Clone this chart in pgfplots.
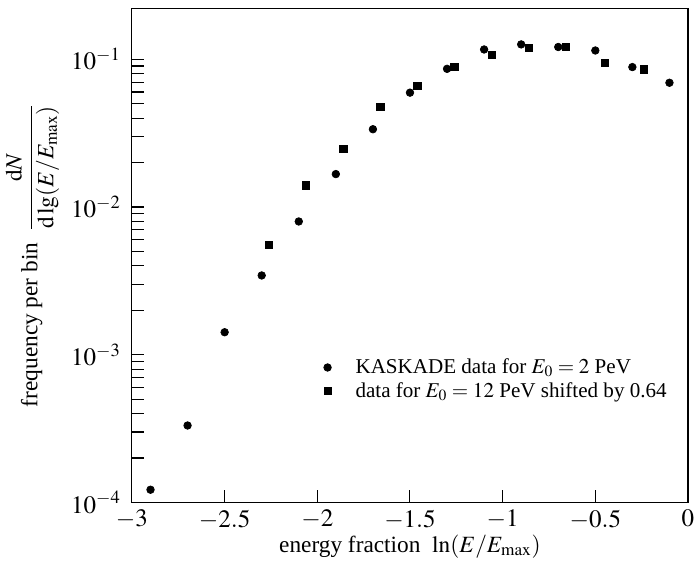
\documentclass[border=0pt]{standalone}
\usepackage{mathptmx}
\usepackage{fontspec}
\setmainfont{Liberation Serif}
\usepackage{pgfplots}
\pgfplotsset{compat=1.18}
\begin{document}
\begin{tikzpicture}
\begin{axis}[
  scale only axis,
  width=322pt, height=286pt,
  xmin=-3, xmax=0,
  ymode=log, ymin=1e-4, ymax=0.22,
  xtick={-3,-2.5,-2,-1.5,-1,-0.5,0},
  ytick={1e-4,1e-3,1e-2,1e-1},
  xtick pos=bottom, ytick pos=left,
  tick align=inside,
  major tick length=7pt, minor tick length=7pt,
  tick style={black, line width=0.6pt},
  axis line style={line width=0.6pt},
  ticklabel style={font=\fontsize{14.5}{16}\selectfont},
  xticklabel style={yshift=-0.8pt},
  yticklabel style={xshift=-3pt},
  label style={font=\fontsize{13.5}{15}\selectfont},
  xlabel style={yshift=3.5pt},
  xlabel={energy fraction\ \ $\ln(E/E_{\mathrm{max}})$},
  ylabel={frequency per bin\ \ $\displaystyle\frac{\mathrm{d}N}{\mathrm{d\,lg}(E/E_{\mathrm{max}})}$},
  legend style={draw=none, fill=none, at={(rel axis cs:0.335,0.305)}, anchor=north west,
    font=\fontsize{12.2}{14}\selectfont, row sep=0pt, nodes={inner ysep=1.8pt}},
  legend cell align=left,
]
\addplot[only marks, mark=*, mark size=2.2pt, black] coordinates {
(-2.9,1.22e-4) (-2.7,3.32e-4) (-2.5,1.42e-3) (-2.3,3.44e-3) (-2.1,7.98e-3)
(-1.9,1.67e-2) (-1.7,3.36e-2) (-1.5,5.94e-2) (-1.3,8.61e-2) (-1.1,0.1164)
(-0.9,0.126) (-0.7,0.121) (-0.5,0.1146) (-0.3,0.0885) (-0.1,0.0693)
};
\addlegendentry{\hspace*{12pt}KASKADE data for $E_0 = 2$ PeV}
\addplot[only marks, mark=square*, mark size=2.1pt, black] coordinates {
(-2.26,5.55e-3) (-2.06,1.40e-2) (-1.86,2.47e-2) (-1.66,4.75e-2) (-1.46,6.59e-2)
(-1.26,8.87e-2) (-1.06,0.1067) (-0.86,0.119) (-0.66,0.121) (-0.45,0.0946) (-0.24,0.0853)
};
\addlegendentry{\hspace*{12pt}data for $E_0 = 12$ PeV shifted by 0.64}
\end{axis}
\path ([yshift=5pt]current axis.north);
\path ([yshift=-7pt]current axis.outer south);
\end{tikzpicture}
\end{document}
